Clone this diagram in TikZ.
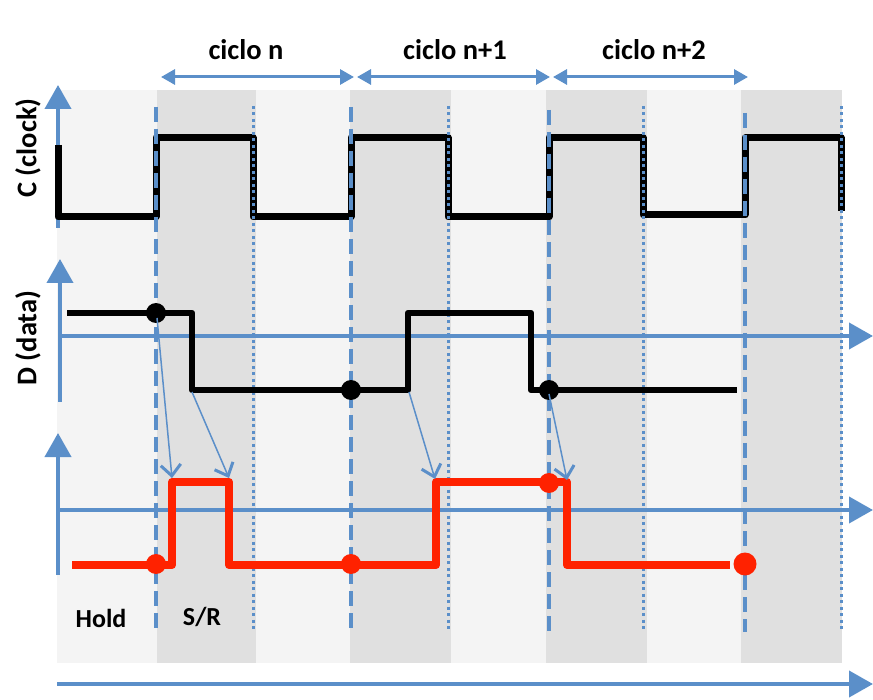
\documentclass[tikz,border=0pt]{standalone}
\usepackage{fontspec}
\setmainfont{Carlito}
\usetikzlibrary{arrows.meta}
\definecolor{axblue}{RGB}{91,143,201}
\definecolor{sigred}{RGB}{255,34,0}
\definecolor{bglight}{RGB}{244,244,244}
\definecolor{bgdark}{RGB}{224,224,224}
\begin{document}
\begin{tikzpicture}[x=1pt,y=-1pt,
  axis/.style={axblue, line width=4pt, -{Triangle[length=24pt,width=26pt]}},
  cyc/.style={axblue, line width=3pt, {Triangle[length=14pt,width=15pt]}-{Triangle[length=14pt,width=15pt]}},
  riseline/.style={axblue, line width=4pt, dash pattern=on 15pt off 7pt},
  fallline/.style={axblue, line width=3pt, dash pattern=on 3pt off 3.5pt},
  clk/.style={black, line width=7pt, line join=round},
  dsig/.style={black, line width=6.5pt, line join=round},
  qsig/.style={sigred, line width=8pt, line join=round},
  bdot/.style={circle, fill=black, inner sep=0pt, minimum size=20pt},
  rdot/.style={circle, fill=sigred, inner sep=0pt, minimum size=20pt},
  samp/.style={axblue, line width=1.5pt, -{Straight Barb[length=11pt,width=20pt,line width=3pt]}},
  lbl/.style={font=\bfseries\fontsize{28.5}{32}\selectfont, inner sep=0pt},
  slbl/.style={font=\bfseries\fontsize{26}{30}\selectfont, inner sep=0pt},
]
\useasboundingbox (0,0) rectangle (873,700);
% background bands
\fill[bglight] (57,90) rectangle (157,663);
\fill[bgdark]  (157,90) rectangle (256,663);
\fill[bglight] (256,90) rectangle (350,663);
\fill[bgdark]  (350,90) rectangle (451,663);
\fill[bglight] (451,90) rectangle (546,663);
\fill[bgdark]  (546,90) rectangle (647,663);
\fill[bglight] (647,90) rectangle (741,663);
\fill[bgdark]  (741,90) rectangle (842,663);

% cycle labels and arrows
\node[lbl] (cn)  at (246,50) {ciclo n};
\node[lbl] (cn1) at (455,50) {ciclo n+1};
\node[lbl] (cn2) at (654,50) {ciclo n+2};
\coordinate (a0) at (161,77);
\coordinate (a1) at (354,77);
\coordinate (b0) at (357,77);
\coordinate (b1) at (550,77);
\coordinate (c0) at (553,77);
\coordinate (c1) at (748,77);
\draw[cyc] (a0) -- (a1);
\draw[cyc] (b0) -- (b1);
\draw[cyc] (c0) -- (c1);

% axis labels
\node[lbl, rotate=90] (lc) at (28,148) {C (clock)};
\node[lbl, rotate=90] (ld) at (28,338) {D (data)};

% axes
\coordinate (cy0) at (58,228); \coordinate (cy1) at (58,85);
\coordinate (dy0) at (60,402); \coordinate (dy1) at (60,259);
\coordinate (dx0) at (60,336); \coordinate (dx1) at (873,336);
\coordinate (qy0) at (58,575); \coordinate (qy1) at (58,433);
\coordinate (qx0) at (58,510); \coordinate (qx1) at (873,510);
\coordinate (tx0) at (57,684); \coordinate (tx1) at (873,684);
\draw[axis] (cy0) -- (cy1);
\draw[axis] (dy0) -- (dy1);
\draw[axis] (dx0) -- (dx1);
\draw[axis] (qy0) -- (qy1);
\draw[axis] (qx0) -- (qx1);
\draw[axis] (tx0) -- (tx1);

% clock
\draw[clk] (58,145) -- (58,217) -- (156,217) -- (156,138) -- (253,138) -- (253,217)
  -- (351,217) -- (351,138) -- (448,138) -- (448,217) -- (549,217) -- (549,138)
  -- (643,138) -- (643,215) -- (745,215) -- (745,138) -- (841,138) -- (841,211);

% edge lines
\foreach \x/\t in {156/107, 351/107, 549/110, 745/113}
  \draw[riseline] (\x,\t) -- (\x,632);
\foreach \x in {253, 448, 643, 841}
  \draw[fallline] (\x,106) -- (\x,630);

% D signal
\draw[dsig] (67,313) -- (192,313) -- (192,390) -- (408,390) -- (408,313)
  -- (531,313) -- (531,390) -- (737,390);
\node[bdot] (d1) at (156,313) {};
\node[bdot] (d2) at (351,390) {};
\node[bdot] (d3) at (549,390) {};

% Q signal
\draw[qsig] (72,565) -- (172,565) -- (172,482) -- (229,482) -- (229,565)
  -- (436,565) -- (436,482) -- (567,482) -- (567,565) -- (730,565);
\node[rdot] (q1) at (156,564) {};
\node[rdot] (q2) at (351,564) {};
\node[rdot] (q3) at (549,483) {};
\node[rdot, minimum size=23pt] (q4) at (745,564) {};

% sampling arrows
\coordinate (s1a) at (157,318); \coordinate (s1b) at (172,478);
\coordinate (s2a) at (192,392); \coordinate (s2b) at (229,478);
\coordinate (s3a) at (409,392); \coordinate (s3b) at (435,479);
\coordinate (s4a) at (549,394); \coordinate (s4b) at (567,480);
\draw[samp] (s1a) -- (s1b);
\draw[samp] (s2a) -- (s2b);
\draw[samp] (s3a) -- (s3b);
\draw[samp] (s4a) -- (s4b);

% phase labels
\node[slbl] (hold) at (101,618) {Hold};
\node[slbl] (sr) at (202,617) {S/R};
\end{tikzpicture}
\end{document}
